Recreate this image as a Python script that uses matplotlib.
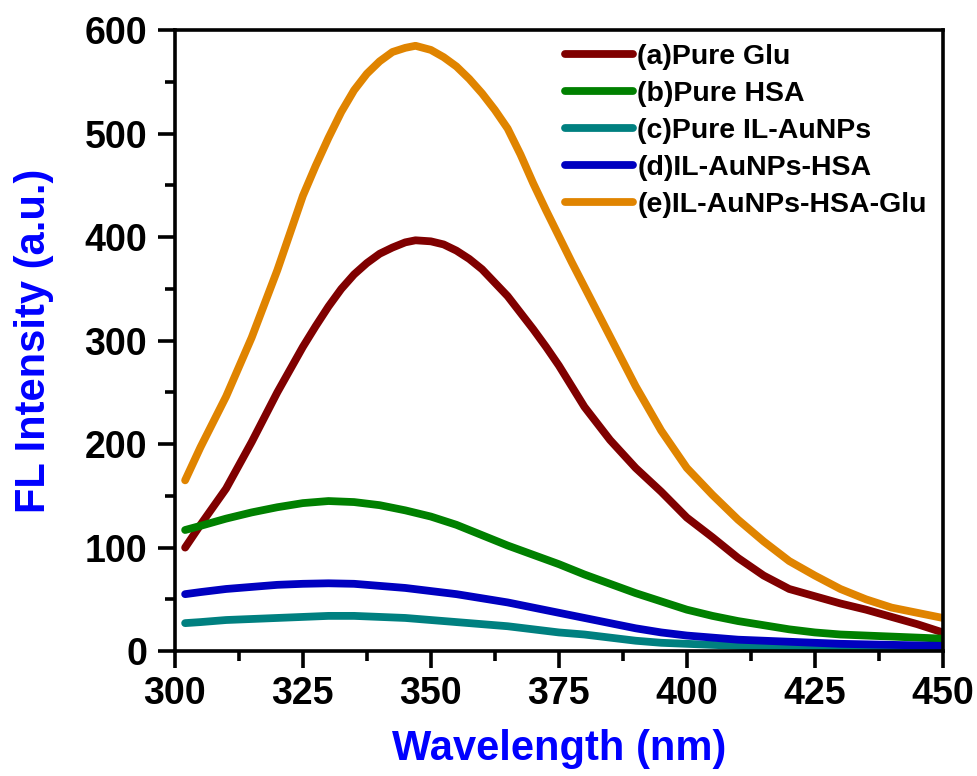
import matplotlib
matplotlib.use("Agg")
import matplotlib.pyplot as plt
from matplotlib.ticker import MultipleLocator

plt.rcParams['font.family'] = ['Liberation Sans', 'DejaVu Sans']
plt.rcParams['font.weight'] = 'bold'

# wavelength grids (nm); the two tall spectra are read more finely near the peak
wl_coarse = [302, 305, 310, 315, 320, 325, 330, 335, 340, 345, 350, 355,
             360, 365, 370, 375, 380, 385, 390, 395, 400, 405, 410, 415,
             420, 425, 430, 435, 440, 445, 450]
wl_fine = [302, 305, 310, 315, 320, 322.5, 325, 327.5, 330, 332.5, 335,
           337.5, 340, 342.5, 345, 347, 350, 352.5, 355, 357.5, 360, 362.5,
           365, 367.5, 370, 372.5, 375, 377.5, 380, 385, 390, 395, 400, 405,
           410, 415, 420, 425, 430, 435, 440, 445, 450]

pure_glu = [100, 122, 157, 202, 250, 272, 294, 314, 333, 350, 364,
            375, 384, 390, 395, 397, 396, 393, 387, 379, 369, 356,
            343, 327, 311, 294, 276, 256, 236, 204, 177, 154, 129, 110,
            90, 73, 60, 53, 46, 40, 33, 26, 18]
il_aunps_hsa_glu = [165, 197, 246, 303, 368, 404, 440, 469, 496, 521, 542,
                    558, 570, 579, 583, 585, 581, 574, 565, 553, 539, 523,
                    505, 480, 452, 426, 401, 376, 352, 304, 256, 213, 177, 151,
                    127, 106, 87, 73, 60, 50, 42, 37, 32]

pure_hsa = [117, 121, 128, 134, 139, 143, 145, 144, 141, 136, 130, 122,
            112, 102, 93, 84, 74, 65, 56, 48, 40, 34, 29, 25,
            21, 18, 16, 15, 14, 13, 12]
pure_il_aunps = [27, 28, 30, 31, 32, 33, 34, 34, 33, 32, 30, 28,
                 26, 24, 21, 18, 16, 13, 10, 8, 7, 6, 5, 4,
                 4, 3, 3, 3, 3, 3, 3]
il_aunps_hsa = [55, 57, 60, 62, 64, 65, 65.5, 65, 63, 61, 58, 55,
                51, 47, 42, 37, 32, 27, 22, 18, 15, 13, 11, 10,
                9, 8, 7, 6.5, 6, 5.5, 5]

labels = ['(a)Pure Glu', '(b)Pure HSA', '(c)Pure IL-AuNPs',
          '(d)IL-AuNPs-HSA', '(e)IL-AuNPs-HSA-Glu']
xs = [wl_fine, wl_coarse, wl_coarse, wl_coarse, wl_fine]
series = [pure_glu, pure_hsa, pure_il_aunps, il_aunps_hsa, il_aunps_hsa_glu]
colors = ['#800000', '#008000', '#008080', '#0000c0', '#e08400']

fig = plt.figure(figsize=(9.77, 7.76), dpi=100)
ax = fig.add_axes([0.179, 0.161, 0.786, 0.800])

for x, y, lab, c in zip(xs, series, labels, colors):
    ax.plot(x, y, color=c, lw=5.6, label=lab, solid_capstyle='round',
            solid_joinstyle='round')

ax.set_xlim(300, 450)
ax.set_ylim(0, 600)
ax.xaxis.set_major_locator(MultipleLocator(25))
ax.xaxis.set_minor_locator(MultipleLocator(12.5))
ax.yaxis.set_major_locator(MultipleLocator(100))
ax.yaxis.set_minor_locator(MultipleLocator(50))

for s in ax.spines.values():
    s.set_linewidth(2.6)
ax.tick_params(which='major', direction='out', length=12, width=2.6,
               labelsize=27)
ax.tick_params(axis='x', which='major', pad=6)
ax.tick_params(axis='y', which='major', pad=8)
ax.tick_params(which='minor', direction='out', length=7, width=2.6)
ax.tick_params(top=False, right=False, which='both')

ax.set_xlabel('Wavelength (nm)', fontsize=30, fontweight='bold',
              color='#0000ff', labelpad=12)
ax.set_ylabel('FL Intensity (a.u.)', fontsize=30, fontweight='bold',
              color='#0000ff', labelpad=22)

leg = ax.legend(loc='upper left', bbox_to_anchor=(0.578, 0.943),
                bbox_transform=fig.transFigure, frameon=False, fontsize=20.5,
                handlelength=2.4, handletextpad=0.15, labelspacing=0.38,
                borderpad=0, borderaxespad=0)
for line in leg.get_lines():
    line.set_linewidth(5.6)

fig.savefig('out.png', dpi=100)
